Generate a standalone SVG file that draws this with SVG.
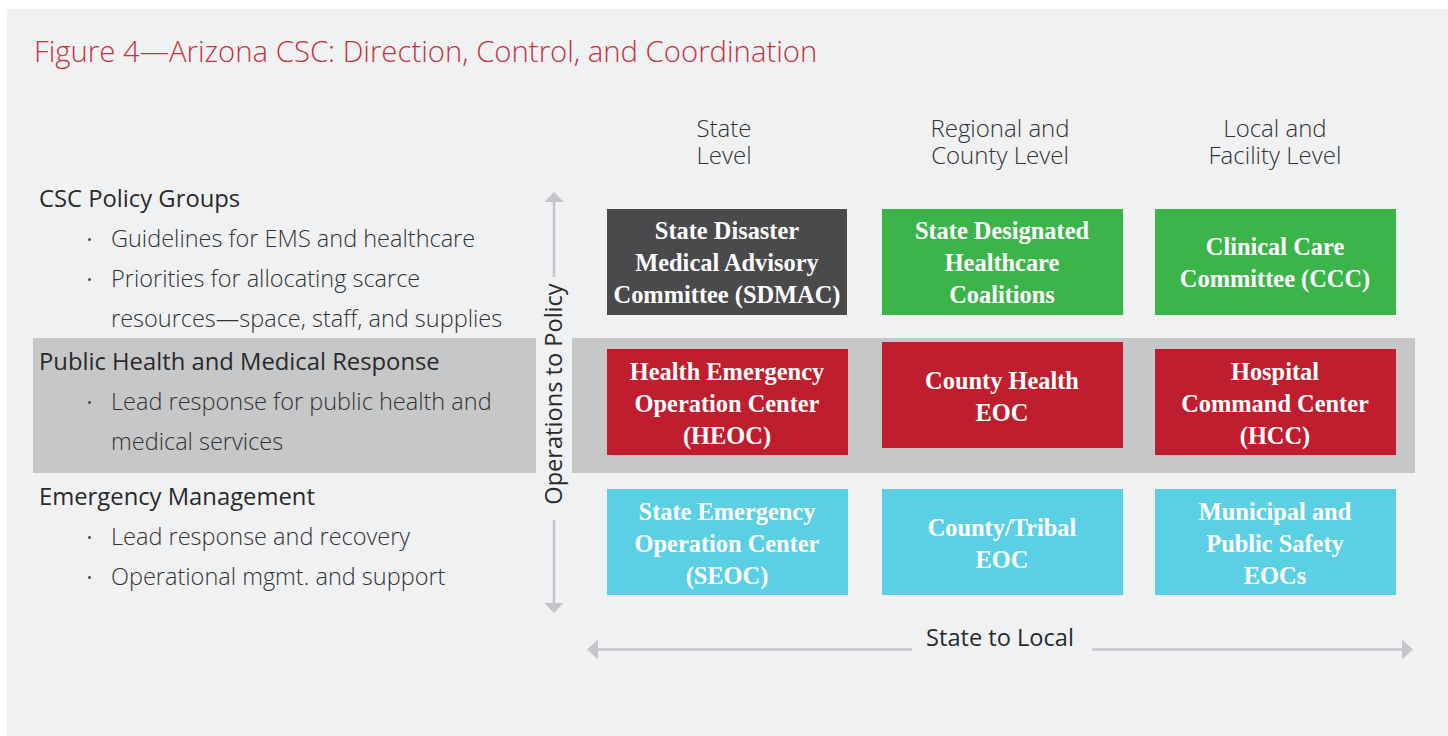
<svg xmlns="http://www.w3.org/2000/svg" width="1448" height="736" viewBox="0 0 1448 736">
<defs>
<style>
.title{font-family:"Open Sans","Liberation Sans",sans-serif;font-weight:300;font-size:29.3px;fill:#c4343b}
.hdr{font-family:"Open Sans","Liberation Sans",sans-serif;font-weight:300;font-size:24px;fill:#333;text-anchor:middle}
.grp{font-family:"Open Sans","Liberation Sans",sans-serif;font-weight:400;font-size:23.8px;fill:#2a2a2a}
.bul{font-family:"Open Sans","Liberation Sans",sans-serif;font-weight:300;font-size:23.5px;fill:#333}
.dot{font-family:"Open Sans","Liberation Sans",sans-serif;font-size:13px;fill:#444}
.axis{font-family:"Open Sans","Liberation Sans",sans-serif;font-weight:400;font-size:23.6px;fill:#2a2a2a;text-anchor:middle}
.box{font-family:"Liberation Serif","DejaVu Serif",serif;font-weight:700;font-size:24.4px;fill:#fff;text-anchor:middle}
.conn{stroke:#c4c5c8;stroke-width:2.5;fill:none}
.head{fill:#c4c5c8}
</style>
</defs>
<rect x="0" y="0" width="1448" height="736" fill="#ffffff"/>
<rect x="7" y="9" width="1441" height="727" fill="#f0f1f3"/>
<text class="title" x="34" y="62">Figure 4—Arizona CSC: Direction, Control, and Coordination</text>

<rect x="33" y="338" width="503" height="135" fill="#c6c7c9"/>
<rect x="572" y="338" width="843" height="135" fill="#c6c7c9"/>

<g id="headers">
<text class="hdr" x="724" y="137">State</text>
<text class="hdr" x="724" y="164">Level</text>
<text class="hdr" x="1000" y="137">Regional and</text>
<text class="hdr" x="1000" y="164">County Level</text>
<text class="hdr" x="1275" y="137">Local and</text>
<text class="hdr" x="1275" y="164">Facility Level</text>
</g>

<g id="left-policy">
<text class="grp" x="39" y="207">CSC Policy Groups</text>
<text class="dot" x="87" y="244">•</text>
<text class="bul" x="111" y="247">Guidelines for EMS and healthcare</text>
<text class="dot" x="87" y="284">•</text>
<text class="bul" x="111" y="287">Priorities for allocating scarce</text>
<text class="bul" x="111" y="327">resources—space, staff, and supplies</text>
</g>
<g id="left-public-health">
<text class="grp" x="39" y="370">Public Health and Medical Response</text>
<text class="dot" x="87" y="407">•</text>
<text class="bul" x="111" y="410">Lead response for public health and</text>
<text class="bul" x="111" y="450">medical services</text>
</g>
<g id="left-emergency">
<text class="grp" x="39" y="505">Emergency Management</text>
<text class="dot" x="87" y="542">•</text>
<text class="bul" x="111" y="545">Lead response and recovery</text>
<text class="dot" x="87" y="582">•</text>
<text class="bul" x="111" y="585">Operational mgmt. and support</text>
</g>

<g id="connectors">
<line class="conn" x1="554" y1="201" x2="554" y2="277"/>
<polygon class="head" points="554,192 544.5,202 563.5,202"/>
<line class="conn" x1="554" y1="520" x2="554" y2="604"/>
<polygon class="head" points="554,613 544.5,603 563.5,603"/>
<line class="conn" x1="597" y1="649.5" x2="912" y2="649.5"/>
<polygon class="head" points="587,649.5 598,639.5 598,659.5"/>
<line class="conn" x1="1092" y1="649.5" x2="1403" y2="649.5"/>
<polygon class="head" points="1413,649.5 1402,639.5 1402,659.5"/>
</g>
<text class="axis" transform="translate(562,394) rotate(-90)">Operations to Policy</text>
<text class="axis" x="1000" y="646">State to Local</text>

<g id="sdmac">
<rect x="607" y="209" width="240" height="106" fill="#4a4a4c"/>
<text class="box" x="727" y="239">State Disaster</text>
<text class="box" x="727" y="271">Medical Advisory</text>
<text class="box" x="727" y="303">Committee (SDMAC)</text>
</g>
<g id="shc">
<rect x="882" y="209" width="241" height="106" fill="#3bb54a"/>
<text class="box" x="1002" y="239">State Designated</text>
<text class="box" x="1002" y="271">Healthcare</text>
<text class="box" x="1002" y="303">Coalitions</text>
</g>
<g id="ccc">
<rect x="1155" y="209" width="241" height="106" fill="#3bb54a"/>
<text class="box" x="1275" y="255">Clinical Care</text>
<text class="box" x="1275" y="287">Committee (CCC)</text>
</g>
<g id="heoc">
<rect x="607" y="349" width="241" height="106" fill="#be1e2d"/>
<text class="box" x="727" y="380">Health Emergency</text>
<text class="box" x="727" y="412">Operation Center</text>
<text class="box" x="727" y="444">(HEOC)</text>
</g>
<g id="county-health">
<rect x="882" y="342" width="241" height="106" fill="#be1e2d"/>
<text class="box" x="1002" y="389">County Health</text>
<text class="box" x="1002" y="421">EOC</text>
</g>
<g id="hcc">
<rect x="1155" y="349" width="241" height="106" fill="#be1e2d"/>
<text class="box" x="1275" y="380">Hospital</text>
<text class="box" x="1275" y="412">Command Center</text>
<text class="box" x="1275" y="444">(HCC)</text>
</g>
<g id="seoc">
<rect x="607" y="489" width="241" height="106" fill="#5bd0e4"/>
<text class="box" x="727" y="520">State Emergency</text>
<text class="box" x="727" y="552">Operation Center</text>
<text class="box" x="727" y="584">(SEOC)</text>
</g>
<g id="county-tribal">
<rect x="882" y="489" width="241" height="106" fill="#5bd0e4"/>
<text class="box" x="1002" y="536">County/Tribal</text>
<text class="box" x="1002" y="568">EOC</text>
</g>
<g id="municipal">
<rect x="1155" y="489" width="241" height="106" fill="#5bd0e4"/>
<text class="box" x="1275" y="520">Municipal and</text>
<text class="box" x="1275" y="552">Public Safety</text>
<text class="box" x="1275" y="584">EOCs</text>
</g>
</svg>
